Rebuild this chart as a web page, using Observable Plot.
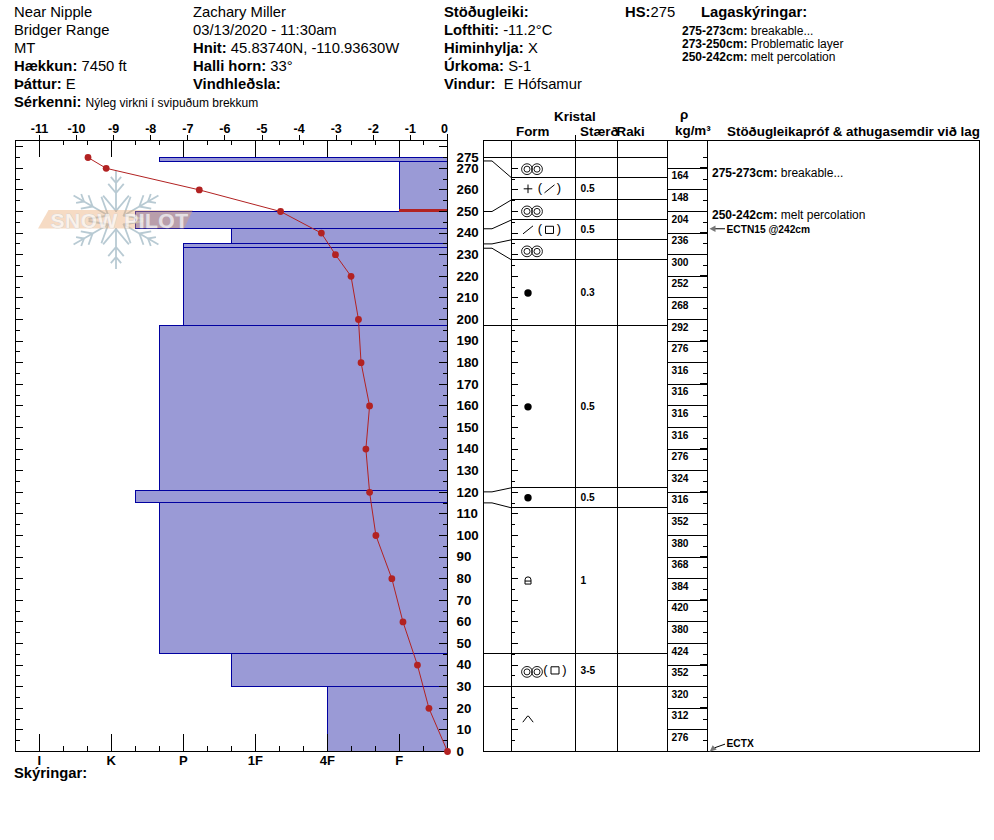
<!DOCTYPE html>
<html>
<head>
<meta charset="utf-8">
<script src="https://cdn.jsdelivr.net/npm/d3@7"></script>
<script src="https://cdn.jsdelivr.net/npm/@observablehq/plot@0.6"></script>
<style>
  html, body { margin: 0; padding: 0; background: #fff; }
  #chart { position: relative; width: 994px; height: 840px; overflow: hidden; font-family: "Liberation Sans", Arial, sans-serif; color: #000; }
  #chart > svg, #chart > figure { position: absolute; left: 0; top: 0; margin: 0; }
  .meta { position: absolute; white-space: pre; line-height: 18px; font-size: 14.8px; }
  .meta.smallv { font-size: 12px; }
  .meta.head { font-size: 13.4px; }
</style>
</head>
<body>
<div id="chart"></div>
<script>
// ---------- header text ----------
const metaLeft = ["Near Nipple", "Bridger Range", "MT"];
const metaElevation = ["Hækkun:", "7450 ft"];
const metaAspect = ["Þáttur:", "E"];
const metaFeature = ["Sérkenni:", "Nýleg virkni í svipuðum brekkum"];
const metaMiddle = [["", "Zachary Miller"], ["", "03/13/2020 - 11:30am"], ["Hnit:", "45.83740N, -110.93630W"], ["Halli horn:", "33°"], ["Vindhleðsla:", ""]];
const metaRight = [["Stöðugleiki:", ""], ["Lofthiti:", "-11.2°C"], ["Himinhylja:", "X"], ["Úrkoma:", "S-1"], ["Vindur:", " E Hófsamur"]];
const layerNotes = [["275-273cm:", "breakable..."], ["273-250cm:", "Problematic layer"], ["250-242cm:", "melt percolation"]];
const commentNotes = [["275-273cm:", "breakable..."], ["250-242cm:", "melt percolation"]];

// ---------- hand hardness layers (cm from ground) ----------
const layerTop    = [275, 273, 250, 242, 235, 233, 197, 120.7, 115, 45, 30];
const layerBottom = [273, 250, 242, 235, 233, 197, 120.7, 115, 45, 30, 0];
const layerHard   = ["P-", "F", "K+", "1F-", "P", "P", "P-", "K+", "P-", "1F-", "4F"];
const hardnessNames = ["I", "K", "P", "1F", "4F", "F"];
const problemDepth = 250.4;

// ---------- temperature profile ----------
const tempDepth = [275, 270, 260, 250, 240, 230, 220, 200, 180, 160, 140, 120, 100, 80, 60, 40, 20, 0];
const tempValue = [-9.69, -9.2, -6.69, -4.5, -3.4, -3.02, -2.6, -2.4, -2.33, -2.1, -2.2, -2.1, -1.93, -1.5, -1.2, -0.81, -0.5, 0];
const tempTicks = [-11, -10, -9, -8, -7, -6, -5, -4, -3, -2, -1];

// ---------- stratigraphy table ----------
const rowEdges = [275, 265.6, 255.4, 246.1, 236.9, 227.6, 197, 122.1, 112.8, 45.2, 29.9, 0];
const rowPrimary = ["MF", "PP", "MF", "DF", "MF", "RG", "RG", "RG", "MFcr", "MF", "DH"];
const rowSecondary = [null, "DF", null, "FC", null, null, null, null, null, "FC", null];
const rowSize = ["", "0.5", "", "0.5", "", "0.3", "0.5", "0.5", "1", "3-5", ""];
const fullWidthEdges = [275, 197, 45.2, 29.9];
const connectorTrue = [273.4, 250, 242, 235, 233, 120.2, 115.1];
const connectorShown = [265.6, 255.4, 246.1, 236.9, 227.6, 122.1, 112.8];

const densityTops = [270, 260, 250, 240, 230, 220, 210, 200, 190, 180, 170, 160, 150, 140, 130, 120, 110, 100, 90, 80, 70, 60, 50, 40, 30, 20, 10];
const densityValues = [164, 148, 204, 236, 300, 252, 268, 292, 276, 316, 316, 316, 316, 276, 324, 316, 352, 380, 368, 384, 420, 380, 424, 352, 320, 312, 276];
const densityThick = [270, 240, 220, 190, 170, 140, 120, 90, 70, 40, 20];

const testNames = ["ECTN15 @242cm", "ECTX"];
const testDepths = [242, 0];

// ---------- layout ----------
const W = 994, H = 840, TOP = 140, BOTTOM = 751;
const cmPerPx = 1 / 2.16;
const depthMax = (BOTTOM - TOP) * cmPerPx;
const yScale = {domain: [0, depthMax], axis: null};
const leftEdge = 14.5, rightEdge = 447;
const font = `font-family:"Liberation Sans",Arial,sans-serif;`;
const base = {width: W, height: H, marginTop: TOP, marginBottom: H - BOTTOM};
const crisp = {shapeRendering: "crispEdges"};
const pxH = p => p / 72;

const hardValue = s => {
  const m = /^(.*?)([+-]?)$/.exec(s);
  return hardnessNames.indexOf(m[1]) + (m[2] === "+" ? 1 / 3 : m[2] === "-" ? -1 / 3 : 0);
};
const hardMin = -24.3 / 72, hardMax = 408.2 / 72;
const every5 = d3.range(0, 285, 5);
const isTen = d => d % 10 === 0;
const depthLabels = d3.range(0, 280, 10).concat([275]);

// ---------- hardness plot ----------
const layers = layerTop.map((t, i) => ({top: t, bottom: layerBottom[i], h: hardValue(layerHard[i])}));
const hardMinor = d3.range(0, 17).map(i => i / 3).concat([hardMax]);
const hardMajor = d3.range(0, 6);
const hardnessPlot = Plot.plot({
  ...base, marginLeft: leftEdge, marginRight: W - rightEdge,
  style: font + "background:#fff;",
  x: {domain: [hardMin, hardMax], axis: null},
  y: yScale,
  marks: [
    Plot.rect(layers, {x1: "h", x2: hardMax, y1: "bottom", y2: "top", dx: 0.8, fill: "#9a9ad6", stroke: "#0000a0", strokeWidth: 1, ...crisp}),
    Plot.ruleY([problemDepth], {x1: 5, x2: hardMax, stroke: "#b22222", strokeWidth: 2.4, ...crisp}),
    // hardness ticks, bottom and top, pointing inward
    Plot.ruleX(hardMinor, {y1: 0, y2: 5 * cmPerPx, stroke: "#000", ...crisp}),
    Plot.ruleX(hardMajor, {y1: 0, y2: 17 * cmPerPx, stroke: "#000", ...crisp}),
    Plot.ruleX(hardMinor, {y1: depthMax, y2: depthMax - 5 * cmPerPx, stroke: "#000", ...crisp}),
    Plot.ruleX(hardMajor, {y1: depthMax, y2: depthMax - 17 * cmPerPx, stroke: "#000", ...crisp}),
    // depth ticks, both sides
    Plot.ruleY(every5, {x1: hardMin, x2: d => hardMin + pxH(isTen(d) ? 8 : 5), stroke: "#000", ...crisp}),
    Plot.ruleY(every5, {x1: hardMax, x2: d => hardMax - pxH(isTen(d) ? 8 : 4), stroke: "#000", ...crisp}),
    Plot.frame({stroke: "#000", strokeWidth: 1, ...crisp}),
    Plot.axisX(hardMajor, {anchor: "bottom", tickSize: 0, tickPadding: 4, label: null, fontSize: 13, fontWeight: "bold", tickFormat: i => hardnessNames[i], fill: "#000"}),
    Plot.text(depthLabels, {x: hardMax, y: d => d, text: String, dx: 9, textAnchor: "start", fontSize: 13.3, fontWeight: "bold", fill: "#000"})
  ]
});

// ---------- watermark ----------
const flakeC = [115.5, 219.5];
const flakeSegs = [];
for (let a = 0; a < 6; a++) {
  const th = a * Math.PI / 3;
  const u = [Math.sin(th), -Math.cos(th)];
  flakeSegs.push({x1: flakeC[0] + u[0] * 8, y1: flakeC[1] + u[1] * 8, x2: flakeC[0] + u[0] * 49, y2: flakeC[1] + u[1] * 49});
  [[9, 20], [27, 12], [37, 8]].forEach(([r, len]) => {
    [-0.7, 0.7].forEach(off => {
      const v = [Math.sin(th + off), -Math.cos(th + off)];
      flakeSegs.push({x1: flakeC[0] + u[0] * r, y1: flakeC[1] + u[1] * r, x2: flakeC[0] + u[0] * r + v[0] * len, y2: flakeC[1] + u[1] * r + v[1] * len});
    });
  });
}
const logoBand = [{y: 210, x1: 48.5, x2: 193}, {y: 228.5, x1: 38, x2: 184}];
const watermarkPlot = Plot.plot({
  width: W, height: H, margin: 0,
  style: font + "background:transparent;letter-spacing:0.5px;",
  x: {domain: [0, W], axis: null},
  y: {domain: [H, 0], axis: null},
  marks: [
    Plot.link(flakeSegs, {x1: "x1", y1: "y1", x2: "x2", y2: "y2", stroke: "#b8cad3", strokeWidth: 1.8}),
    Plot.areaX(logoBand, {y: "y", x1: "x1", x2: "x2", fill: "#e9a56c", fillOpacity: 0.4}),
    Plot.text(["SNOW PILOT"], {x: 119, y: 220.5, text: d => d, fontSize: 21, fontWeight: "bold", fill: "#ffffff", fillOpacity: 0.68, stroke: "#b9c4cf", strokeWidth: 0.6, strokeOpacity: 0.7})
  ]
});

// ---------- temperature plot ----------
const tempRows = tempDepth.map((d, i) => ({depth: d, t: tempValue[i]}));
const tempPlot = Plot.plot({
  ...base, marginLeft: leftEdge, marginRight: W - rightEdge,
  style: font + "background:transparent;",
  x: {domain: [-432.5 / 37.1, 0], axis: null},
  y: yScale,
  marks: [
    Plot.axisX(tempTicks, {anchor: "top", tickSize: 6, tickPadding: 2, label: null, fontSize: 12.5, fontWeight: "bold", tickFormat: d => String(d), fill: "#000", stroke: "#000", ...crisp}),
    Plot.axisX([0], {anchor: "top", tickSize: 0, tickPadding: 8, label: null, fontSize: 12.5, fontWeight: "bold", tickFormat: () => "0", dx: -3, fill: "#000"}),
    Plot.ruleX([0], {y1: depthMax, y2: depthMax + 6 * cmPerPx, stroke: "#000", ...crisp}),
    Plot.line(tempRows, {x: "t", y: "depth", stroke: "#b22222", strokeWidth: 1}),
    Plot.dot(tempRows, {x: "t", y: "depth", r: 3.4, fill: "#b22222"})
  ]
});

// ---------- table glyphs ----------
const sym = draw => ({draw});
const slash = sym(c => { c.moveTo(-5, 4); c.lineTo(5, -4); });
const square = sym(c => { c.moveTo(-4, -3.6); c.lineTo(4, -3.6); c.lineTo(4, 3.6); c.lineTo(-4, 3.6); c.closePath(); });
const plus = sym(c => { c.moveTo(-4.3, 0); c.lineTo(4.3, 0); c.moveTo(0, -4.3); c.lineTo(0, 4.3); });
const hat = sym(c => { c.moveTo(-5.2, 3); c.lineTo(-0.4, -3.2); c.lineTo(0.4, -3.2); c.lineTo(5.2, 3); });
const lockG = sym(c => { c.moveTo(-3, 3.2); c.lineTo(-3, -1); c.arc(0, -1, 3, Math.PI, 0); c.lineTo(3, 3.2); c.closePath(); c.moveTo(-3, 0.2); c.lineTo(3, 0.2); });
const headLeft = sym(c => { c.moveTo(-4, 0); c.lineTo(2, -3.2); c.lineTo(2, 3.2); c.closePath(); });
const headDownLeft = sym(c => { c.moveTo(-4, 3); c.lineTo(3.2, 0.8); c.lineTo(-0.8, -3.4); c.closePath(); });
const glyphSym = {PP: plus, DF: slash, FC: square, DH: hat, MFcr: lockG};

const rows = rowPrimary.map((p, i) => ({
  mid: (rowEdges[i] + rowEdges[i + 1]) / 2, p, s: rowSecondary[i], size: rowSize[i]
}));
const colEdges = [0, 28, 92, 134, 184, 224, 496];
const P_X = 44.5;                      // primary glyph centre
const mfRows = rows.filter(r => r.p === "MF");
const roundRows = rows.filter(r => r.p === "RG");
const drawnRows = rows.filter(r => glyphSym[r.p]);
const secondaryRows = rows.filter(r => r.s);
const secX = r => r.p === "MF" ? 71.5 : 66;
const connectorPts = connectorTrue.flatMap((t, i) => [
  {id: i, x: 0, y: t}, {id: i, x: 8.5, y: t}, {id: i, x: 28, y: connectorShown[i]}
]);
const densityRows = densityTops.map((d, i) => ({top: d, v: densityValues[i]}));
const tests = testNames.map((n, i) => ({name: n, depth: testDepths[i]}));

const glyphMarks = [
  ...[[43.5, 5.4], [53.5, 5.4], [43.5, 3], [53.5, 3]].map(([x, r]) =>
    Plot.dot(mfRows, {x: () => x, y: "mid", dy: 1.5, r, fill: "none", stroke: "#000", strokeWidth: 0.9})),
  Plot.dot(roundRows, {x: () => P_X, y: "mid", r: 3.7, fill: "#000"}),
  ...Object.keys(glyphSym).map(k =>
    Plot.dot(drawnRows.filter(r => r.p === k), {x: () => P_X, y: "mid", r: 3, symbol: glyphSym[k], fill: "none", stroke: "#000", strokeWidth: 1})),
  ...Object.keys(glyphSym).map(k =>
    Plot.dot(secondaryRows.filter(r => r.s === k), {x: secX, y: "mid", r: 3, symbol: glyphSym[k], fill: "none", stroke: "#000", strokeWidth: 1})),
  Plot.text(secondaryRows, {x: r => secX(r) - 9.5, y: "mid", text: () => "(", dy: -1, fontSize: 13, fill: "#000"}),
  Plot.text(secondaryRows, {x: r => secX(r) + 9.5, y: "mid", text: () => ")", dy: -1, fontSize: 13, fill: "#000"})
];

// ---------- table plot ----------
const tablePlot = Plot.plot({
  ...base, marginLeft: 483, marginRight: 15,
  style: font + "background:transparent;",
  x: {domain: [0, 496], axis: null},
  y: yScale,
  marks: [
    Plot.frame({stroke: "#000", ...crisp}),
    Plot.ruleX(colEdges.slice(1, 6), {stroke: "#000", ...crisp}),
    Plot.ruleX([92], {y1: depthMax, y2: depthMax + 5 * cmPerPx, stroke: "#000", ...crisp}),
    Plot.ruleY(rowEdges.slice(0, -1), {x1: d => fullWidthEdges.includes(d) ? 0 : 28, x2: 184, stroke: "#000", ...crisp}),
    Plot.line(connectorPts, {x: "x", y: "y", z: "id", stroke: "#000", strokeWidth: 1, curve: "linear"}),
    Plot.ruleY(d3.range(5, 275, 5), {x1: 28, x2: d => 28 + (isTen(d) ? 7 : 4), stroke: "#000", ...crisp}),
    // density
    Plot.ruleY(densityTops, {x1: 184, x2: 224, stroke: "#000", ...crisp}),
    Plot.ruleY(every5.filter(d => !isTen(d) && d < 280), {x1: 224, x2: 220, stroke: "#000", ...crisp}),
    Plot.ruleY(densityThick, {x1: 224, x2: 217, stroke: "#000", dy: -1, ...crisp}),
    Plot.text(densityRows, {x: 188, y: d => d.top - 5, text: d => String(d.v), dy: -3, textAnchor: "start", fontSize: 10.2, fontWeight: "bold", fill: "#000"}),
    // forms and sizes
    ...glyphMarks,
    Plot.text(rows.filter(r => r.size), {x: 97, y: "mid", text: "size", textAnchor: "start", fontSize: 10.2, fontWeight: "bold", fill: "#000"}),
    // comment column
    Plot.text(tests, {filter: d => d.depth > 0, x: 243, y: "depth", text: "name", dy: 1, textAnchor: "start", fontSize: 10.2, fontWeight: "bold", fill: "#000"}),
    Plot.text(tests, {filter: d => d.depth === 0, x: 243, y: "depth", text: "name", dy: -8, textAnchor: "start", fontSize: 10.2, fontWeight: "bold", fill: "#000"}),
    // test arrows
    Plot.link(tests, {filter: d => d.depth > 0, x1: 241.5, x2: 231, y1: "depth", y2: "depth", stroke: "#000"}),
    Plot.dot(tests, {filter: d => d.depth > 0, x: 230, y: "depth", r: 3, symbol: headLeft, fill: "#777"}),
    Plot.link(tests, {filter: d => d.depth === 0, x1: 241.5, x2: 231, y1: 3.4, y2: 1.7, stroke: "#000"}),
    Plot.dot(tests, {filter: d => d.depth === 0, x: 230, y: 1.3, r: 3, symbol: headDownLeft, fill: "#777"})
  ]
});

// ---------- assemble ----------
const chart = document.getElementById("chart");
[hardnessPlot, watermarkPlot, tempPlot, tablePlot].forEach(p => chart.appendChild(p));

function put(x, yCentre, html, cls) {
  const el = document.createElement("div");
  el.className = "meta" + (cls ? " " + cls : "");
  el.style.left = x + "px";
  el.style.top = (yCentre - 9) + "px";
  el.innerHTML = html;
  chart.appendChild(el);
}
const pair = (a, b) => (a ? `<b>${a}</b> ` : "") + b;

metaLeft.forEach((t, i) => put(14, 12 + i * 18, t));
put(14, 66, pair(...metaElevation));
put(14, 84, pair(...metaAspect));
put(14, 102, `<b>${metaFeature[0]}</b> <span style="font-size:12px">${metaFeature[1]}</span>`);
metaMiddle.forEach((m, i) => put(193, 12 + i * 18, pair(...m)));
metaRight.forEach((m, i) => put(444, 12 + i * 18, pair(...m)));
put(625, 12, "<b>HS:</b>275");
put(701, 12, "<b>Lagaskýringar:</b>");
layerNotes.forEach((n, i) => put(682, 31 + i * 13, `<b>${n[0]}</b> ${n[1]}`, "smallv"));
put(14, 773, "<b>Skýringar:</b>");

// column headers
put(554, 117, "<b>Kristal</b>", "head");
put(516, 132, "<b>Form</b>", "head");
put(580, 132, "<b>Stærð</b>", "head");
put(616.5, 132, "<b>Raki</b>", "head");
put(680, 114.5, "<b>ρ</b>", "head");
put(675, 130.5, "<b>kg/m³</b>", "head");
put(727, 132, "<b>Stöðugleikapróf &amp; athugasemdir við lag</b>", "head");
commentNotes.forEach((n, i) => put(712, 173 + i * 42, `<b>${n[0]}</b> ${n[1]}`, "smallv"));
</script>
</body>
</html>
